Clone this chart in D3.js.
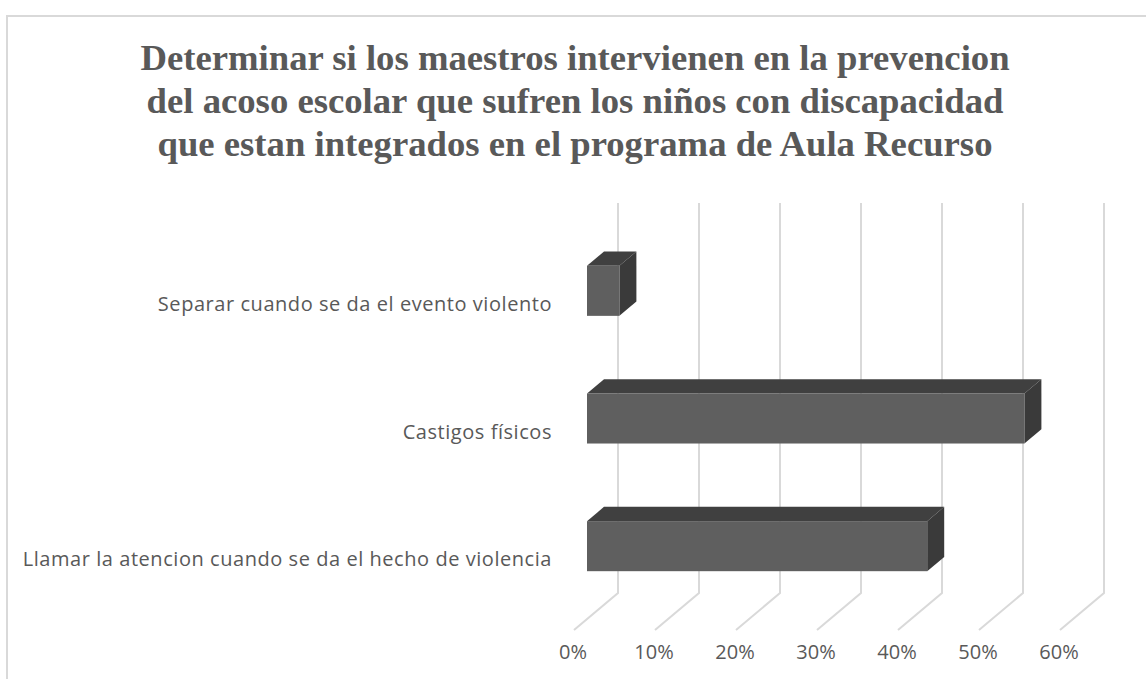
<!DOCTYPE html>
<html>
<head>
<meta charset="utf-8">
<script src="https://cdn.jsdelivr.net/npm/d3@7"></script>
<style>
  html, body { margin: 0; padding: 0; background: #fff; }
</style>
</head>
<body>
<div id="chart"></div>
<script>
const width = 1146;
const height = 679;

const titleLines = [
    "Determinar si los maestros intervienen en la prevencion",
    "del acoso escolar que sufren los niños con discapacidad",
    "que estan integrados en el programa de Aula Recurso"
];
const categories = [
    "Separar cuando se da el evento violento",
    "Castigos físicos",
    "Llamar la atencion cuando se da el hecho de violencia"
];
const values = [4, 54, 42];
const ticks = [0, 10, 20, 30, 40, 50, 60];

// oblique 3D: front floor edge origin and the shift to the back wall
const floorX = 574, floorY = 630;
const depthX = 44, depthY = -37;
const barFront = 13 / 44, barBack = 30 / 44;

const x = d3.scaleLinear().domain([0, 60]).range([0, 486]);
const y = d3.scaleBand().domain(categories).range([227, 610])
    .paddingInner(0.608).paddingOuter(0.304);

const svg = d3.select("#chart").append("svg")
    .attr("width", width)
    .attr("height", height);

// outer frame (only top and left visible)
svg.append("rect")
    .attr("x", 7).attr("y", 16)
    .attr("width", width + 20).attr("height", height + 20)
    .attr("fill", "#fff")
    .attr("stroke", "#d9d9d9")
    .attr("stroke-width", 2);

// title
svg.append("text")
    .attr("text-anchor", "middle")
    .attr("font-family", "'Liberation Serif', 'Times New Roman', serif")
    .attr("font-weight", "bold")
    .attr("font-size", "36.7px")
    .attr("fill", "#595959")
    .selectAll("tspan")
    .data(titleLines)
    .enter().append("tspan")
    .attr("x", 575)
    .attr("y", (d, i) => 70 + i * 43)
    .text(d => d);

// gridlines: back wall verticals + floor diagonals
const grid = svg.append("g")
    .attr("stroke", "#d9d9d9")
    .attr("stroke-width", 2)
    .attr("fill", "none");

grid.selectAll("path")
    .data(ticks)
    .enter().append("path")
    .attr("d", d => {
        const bx = floorX + x(d) + depthX, by = floorY + depthY;
        return `M${bx},203L${bx},${by}L${floorX + x(d)},${floorY}`;
    });

// bars
const bars = svg.selectAll(".bar")
    .data(categories.map((c, i) => ({ cat: c, value: values[i] })))
    .enter().append("g")
    .attr("class", "bar");

const fx0 = floorX + depthX * barFront;
const dx = depthX * (barBack - barFront);
const dy = depthY * (barBack - barFront);

bars.append("path")
    .attr("fill", "#404040")
    .attr("d", d => {
        const x0 = fx0, x1 = fx0 + x(d.value), t = y(d.cat);
        return `M${x0},${t}L${x0 + dx},${t + dy}L${x1 + dx},${t + dy}L${x1},${t}Z`;
    });

bars.append("path")
    .attr("fill", "#3a3a3a")
    .attr("d", d => {
        const x1 = fx0 + x(d.value), t = y(d.cat), b = t + y.bandwidth();
        return `M${x1},${t}L${x1 + dx},${t + dy}L${x1 + dx},${b + dy}L${x1},${b}Z`;
    });

bars.append("rect")
    .attr("fill", "#5f5f5f")
    .attr("x", fx0)
    .attr("y", d => y(d.cat))
    .attr("width", d => x(d.value))
    .attr("height", y.bandwidth());

// category labels
svg.selectAll(".cat")
    .data(categories)
    .enter().append("text")
    .attr("class", "cat")
    .attr("x", 552)
    .attr("y", d => y(d) + y.bandwidth() / 2 + 13)
    .attr("dy", "0.35em")
    .attr("text-anchor", "end")
    .attr("font-family", "'Open Sans', sans-serif")
    .attr("font-size", "20px")
    .attr("letter-spacing", "0.55px")
    .attr("fill", "#595959")
    .text(d => d);

// value axis labels
svg.selectAll(".tick")
    .data(ticks)
    .enter().append("text")
    .attr("class", "tick")
    .attr("x", d => floorX + x(d) - 1)
    .attr("y", 652)
    .attr("dy", "0.35em")
    .attr("text-anchor", "middle")
    .attr("font-family", "'Open Sans', sans-serif")
    .attr("font-size", "20px")
    .attr("fill", "#595959")
    .text(d => d + "%");
</script>
</body>
</html>
